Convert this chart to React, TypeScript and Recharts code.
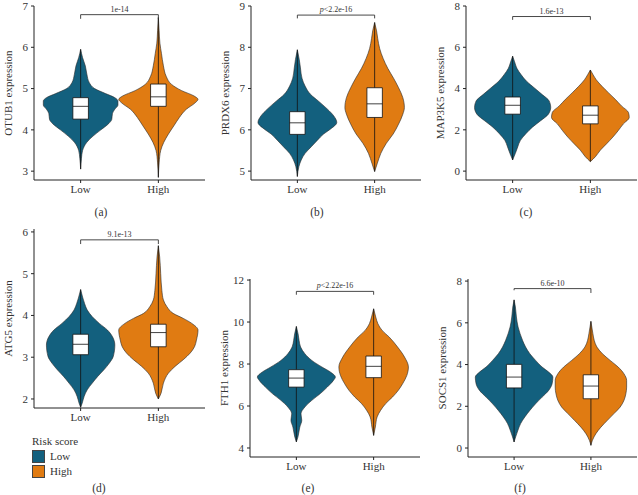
import React from "react";
import {
  Area,
  ComposedChart,
  Label,
  ReferenceArea,
  ReferenceLine,
  XAxis,
  YAxis
} from "recharts";

const groups = ["Low", "High"];
const genes = ["OTUB1", "PRDX6", "MAP3K5", "ATG5", "FTH1", "SOCS1"];
const pLabels = ["1e-14", "p<2.2e-16", "1.6e-13", "9.1e-13", "p<2.22e-16", "6.6e-10"];
const panelTags = ["(a)", "(b)", "(c)", "(d)", "(e)", "(f)"];

const yTicks = [
  [3, 4, 5, 6, 7],
  [5, 6, 7, 8, 9],
  [0, 2, 4, 6, 8],
  [2, 3, 4, 5, 6],
  [4, 6, 8, 10, 12],
  [0, 2, 4, 6, 8]
];

// violin outlines: [expression, half width in group units]
const otub1Low = [
  [3.05, 0], [3.3, 0.01], [3.5, 0.025], [3.7, 0.08], [3.85, 0.16], [4.0, 0.26], [4.15, 0.36],
  [4.25, 0.4], [4.4, 0.41], [4.5, 0.44], [4.6, 0.48], [4.7, 0.48], [4.78, 0.44], [4.88, 0.32],
  [5.0, 0.18], [5.15, 0.11], [5.35, 0.08], [5.55, 0.06], [5.75, 0.025], [5.95, 0]
];
const otub1High = [
  [2.85, 0], [3.2, 0.01], [3.5, 0.03], [3.7, 0.07], [3.9, 0.13], [4.1, 0.2], [4.3, 0.27],
  [4.5, 0.36], [4.65, 0.47], [4.74, 0.51], [4.82, 0.46], [4.95, 0.3], [5.1, 0.17], [5.3, 0.1],
  [5.55, 0.065], [5.85, 0.04], [6.1, 0.02], [6.4, 0.01], [6.72, 0]
];
const prdx6Low = [
  [4.87, 0], [5.11, 0.02], [5.27, 0.05], [5.43, 0.1], [5.59, 0.18], [5.75, 0.26], [5.9, 0.34],
  [6.02, 0.43], [6.18, 0.51], [6.34, 0.47], [6.5, 0.39], [6.7, 0.27], [6.86, 0.17], [7.06, 0.1],
  [7.25, 0.06], [7.5, 0.04], [7.7, 0.025], [7.94, 0]
];
const prdx6High = [
  [4.99, 0], [5.19, 0.035], [5.43, 0.08], [5.67, 0.15], [5.9, 0.24], [6.14, 0.31], [6.38, 0.365],
  [6.54, 0.385], [6.78, 0.365], [7.02, 0.31], [7.25, 0.245], [7.49, 0.17], [7.73, 0.11],
  [7.97, 0.065], [8.21, 0.04], [8.4, 0.025], [8.6, 0]
];
const map3k5Low = [
  [0.54, 0], [0.86, 0.035], [1.17, 0.065], [1.49, 0.1], [1.81, 0.17], [2.13, 0.255], [2.44, 0.36],
  [2.76, 0.46], [3.08, 0.49], [3.4, 0.47], [3.71, 0.38], [4.03, 0.28], [4.35, 0.18], [4.67, 0.11],
  [4.98, 0.055], [5.3, 0.025], [5.57, 0]
];
const map3k5High = [
  [0.46, 0], [0.7, 0.065], [1.02, 0.13], [1.33, 0.21], [1.65, 0.29], [1.97, 0.36], [2.29, 0.425],
  [2.6, 0.5], [2.84, 0.49], [3.16, 0.4], [3.48, 0.32], [3.79, 0.235], [4.11, 0.15], [4.43, 0.075],
  [4.67, 0.035], [4.9, 0]
];
const atg5Low = [
  [1.8, 0], [1.9, 0.02], [2.06, 0.045], [2.22, 0.085], [2.38, 0.15], [2.54, 0.22], [2.7, 0.3],
  [2.86, 0.37], [3.02, 0.42], [3.29, 0.44], [3.49, 0.41], [3.65, 0.345], [3.81, 0.24], [3.97, 0.15],
  [4.13, 0.085], [4.29, 0.05], [4.44, 0.025], [4.62, 0]
];
const atg5High = [
  [2.0, 0], [2.14, 0.035], [2.38, 0.065], [2.62, 0.13], [2.78, 0.215], [2.94, 0.32], [3.1, 0.41],
  [3.25, 0.465], [3.41, 0.49], [3.65, 0.51], [3.81, 0.43], [3.93, 0.32], [4.05, 0.19], [4.21, 0.11],
  [4.37, 0.065], [4.6, 0.045], [5.0, 0.03], [5.4, 0.017], [5.67, 0]
];
const fth1Low = [
  [4.29, 0], [4.52, 0.02], [5.0, 0.045], [5.32, 0.07], [5.63, 0.06], [5.95, 0.11], [6.27, 0.2],
  [6.59, 0.31], [6.9, 0.4], [7.22, 0.48], [7.38, 0.505], [7.62, 0.44], [7.86, 0.33], [8.17, 0.2],
  [8.49, 0.11], [8.81, 0.055], [9.13, 0.035], [9.44, 0.022], [9.79, 0]
];
const fth1High = [
  [4.6, 0], [5.0, 0.022], [5.48, 0.045], [5.79, 0.09], [6.11, 0.155], [6.43, 0.245], [6.75, 0.32],
  [7.06, 0.375], [7.46, 0.43], [7.86, 0.45], [8.33, 0.4], [8.81, 0.31], [9.29, 0.2], [9.6, 0.11],
  [9.92, 0.055], [10.24, 0.027], [10.63, 0]
];
const socs1Low = [
  [0.29, 0], [0.53, 0.02], [0.85, 0.05], [1.17, 0.085], [1.49, 0.14], [1.8, 0.205], [2.12, 0.28],
  [2.44, 0.365], [2.76, 0.45], [3.08, 0.495], [3.4, 0.505], [3.64, 0.45], [3.88, 0.365], [4.2, 0.28],
  [4.52, 0.205], [4.84, 0.15], [5.16, 0.11], [5.48, 0.078], [5.8, 0.052], [6.28, 0.03],
  [6.76, 0.017], [7.1, 0]
];
const socs1High = [
  [0.13, 0], [0.37, 0.02], [0.69, 0.065], [1.0, 0.13], [1.33, 0.215], [1.65, 0.3], [1.96, 0.38],
  [2.28, 0.43], [2.6, 0.455], [2.92, 0.465], [3.24, 0.465], [3.56, 0.43], [3.88, 0.355], [4.2, 0.25],
  [4.52, 0.15], [4.84, 0.078], [5.16, 0.043], [5.48, 0.026], [6.07, 0]
];

// box stats: [min, q1, median, q3, max]
const otub1Box = [[3.05, 4.26, 4.57, 4.78, 5.95], [2.85, 4.57, 4.8, 5.11, 6.72]];
const prdx6Box = [[4.87, 5.89, 6.17, 6.44, 7.94], [4.99, 6.3, 6.63, 7.02, 8.6]];
const map3k5Box = [[0.54, 2.76, 3.19, 3.59, 5.57], [0.46, 2.29, 2.71, 3.16, 4.9]];
const atg5Box = [[1.8, 3.06, 3.31, 3.55, 4.62], [2.0, 3.25, 3.59, 3.79, 5.67]];
const fth1Box = [[4.29, 6.9, 7.33, 7.73, 9.79], [4.6, 7.35, 7.89, 8.38, 10.63]];
const socs1Box = [[0.29, 2.88, 3.4, 4.01, 7.1], [0.13, 2.36, 2.97, 3.51, 6.07]];

// significance bracket: [height, left tip end, right tip end]
const brackets = [
  [6.79, 6.69, 6.69],
  [8.78, 8.7, 8.7],
  [7.49, 7.33, 7.33],
  [5.81, 5.71, 5.71],
  [11.46, 11.3, 11.3],
  [7.64, 7.56, 7.43]
];

const violins = [
  [otub1Low, otub1High],
  [prdx6Low, prdx6High],
  [map3k5Low, map3k5High],
  [atg5Low, atg5High],
  [fth1Low, fth1High],
  [socs1Low, socs1High]
];
const boxes = [otub1Box, prdx6Box, map3k5Box, atg5Box, fth1Box, socs1Box];

// page placement of each plot area
const frames = [
  { left: 34, top: 6, width: 171, height: 174, domain: [2.786, 7.0], tagX: 101, tagY: 212 },
  { left: 251, top: 6, width: 170, height: 174, domain: [4.785, 9.0], tagX: 317, tagY: 212 },
  { left: 466, top: 6, width: 171, height: 174, domain: [-0.43, 8.0], tagX: 526, tagY: 212 },
  { left: 34, top: 229, width: 171, height: 179, domain: [1.784, 6.07], tagX: 99, tagY: 488 },
  { left: 250, top: 279, width: 170, height: 178, domain: [3.571, 12.05], tagX: 308, tagY: 488 },
  { left: 468, top: 279, width: 169, height: 178, domain: [-0.43, 8.1], tagX: 520, tagY: 488 }
];

const COLORS = ["#13607e", "#e07b12"];
const OUTLINE = "#262626";
const AXIS = "#222";
const FONT = "'Liberation Serif', 'Times New Roman', 'DejaVu Serif', serif";
const Y_AXIS_W = 60;
const X_AXIS_H = 30;
const TOP_PAD = 8;
const BOX_HALF = 0.1;

function PLabel({ text, viewBox }: { text: string; viewBox?: any }) {
  if (!viewBox) return null;
  const x = viewBox.x + viewBox.width / 2;
  const y = viewBox.y - 3;
  const italic = text.startsWith("p");
  return (
    <text x={x} y={y} textAnchor="middle" fontSize={8} fill="#333" fontFamily={FONT}>
      {italic ? <tspan fontStyle="italic">p</tspan> : null}
      {italic ? text.slice(1) : text}
    </text>
  );
}

function YTitle({ text, viewBox }: { text: string; viewBox?: any }) {
  if (!viewBox) return null;
  const x = viewBox.x + viewBox.width - 26;
  const y = viewBox.y + viewBox.height / 2;
  return (
    <text
      x={x}
      y={y}
      transform={`rotate(-90, ${x}, ${y})`}
      textAnchor="middle"
      dominantBaseline="central"
      fontSize={11}
      fill="#333"
      fontFamily={FONT}
    >
      {text}
    </text>
  );
}

function ViolinPanel({ index }: { index: number }) {
  const frame = frames[index];
  const [bracketY, tipLeft, tipRight] = brackets[index];
  const pLabel = pLabels[index];

  return (
    <div
      style={{
        position: "absolute",
        left: frame.left - Y_AXIS_W,
        top: frame.top - TOP_PAD
      }}
    >
      <ComposedChart
        layout="vertical"
        width={frame.width + Y_AXIS_W}
        height={frame.height + TOP_PAD + X_AXIS_H}
        margin={{ top: TOP_PAD, right: 0, bottom: 0, left: 0 }}
        style={{ fontFamily: FONT }}
      >
        <XAxis
          type="number"
          domain={[0.4, 2.6]}
          allowDataOverflow
          ticks={[1, 2]}
          tickFormatter={(value) => groups[value - 1] ?? ""}
          height={X_AXIS_H}
          tickSize={3}
          tickMargin={2}
          stroke={AXIS}
          tick={{ fontSize: 11, fill: "#333", fontFamily: FONT }}
        />
        <YAxis
          type="number"
          dataKey="v"
          domain={frame.domain}
          allowDataOverflow
          reversed
          ticks={yTicks[index]}
          width={Y_AXIS_W}
          tickSize={3}
          tickMargin={3}
          stroke={AXIS}
          tick={{ fontSize: 11, fill: "#333", fontFamily: FONT }}
        >
          <Label content={<YTitle text={`${genes[index]} expression`} />} />
        </YAxis>

        {violins[index].map((shape, g) => {
          const center = g + 1;
          const rows = shape.map(([v, w]) => ({ v, r: [center - w, center + w] }));
          return (
            <Area
              key={`violin-${g}`}
              data={rows}
              dataKey="r"
              type="monotone"
              fill={COLORS[g]}
              fillOpacity={1}
              stroke={OUTLINE}
              strokeWidth={0.6}
              dot={false}
              activeDot={false}
              isAnimationActive={false}
              zIndex={100}
            />
          );
        })}

        {boxes[index].map(([min, , , , max], g) => (
          <ReferenceLine
            key={`whisker-${g}`}
            segment={[
              { x: g + 1, y: min },
              { x: g + 1, y: max }
            ]}
            stroke="#111"
            strokeWidth={0.8}
            zIndex={300}
          />
        ))}
        {boxes[index].map(([, q1, , q3], g) => (
          <ReferenceArea
            key={`box-${g}`}
            x1={g + 1 - BOX_HALF}
            x2={g + 1 + BOX_HALF}
            y1={q1}
            y2={q3}
            fill="#ffffff"
            fillOpacity={1}
            stroke="#111"
            strokeWidth={0.8}
            zIndex={400}
          />
        ))}
        {boxes[index].map(([, , median], g) => (
          <ReferenceLine
            key={`median-${g}`}
            segment={[
              { x: g + 1 - BOX_HALF, y: median },
              { x: g + 1 + BOX_HALF, y: median }
            ]}
            stroke="#111"
            strokeWidth={0.8}
            zIndex={500}
          />
        ))}

        <ReferenceLine
          segment={[
            { x: 1, y: bracketY },
            { x: 2, y: bracketY }
          ]}
          stroke="#333"
          strokeWidth={0.9}
          zIndex={500}
        >
          <Label content={<PLabel text={pLabel} />} />
        </ReferenceLine>
        <ReferenceLine
          segment={[
            { x: 1, y: bracketY },
            { x: 1, y: tipLeft }
          ]}
          stroke="#333"
          strokeWidth={0.9}
          zIndex={500}
        />
        <ReferenceLine
          segment={[
            { x: 2, y: bracketY },
            { x: 2, y: tipRight }
          ]}
          stroke="#333"
          strokeWidth={0.9}
          zIndex={500}
        />
      </ComposedChart>
    </div>
  );
}

export default function App() {
  return (
    <div
      style={{
        position: "absolute",
        left: 0,
        top: 0,
        width: 638,
        height: 495,
        background: "#ffffff",
        fontFamily: FONT,
        color: "#333"
      }}
    >
      {frames.map((frame, i) => (
        <React.Fragment key={genes[i]}>
          <ViolinPanel index={i} />
          <div
            style={{
              position: "absolute",
              left: frame.tagX - 20,
              top: frame.tagY - 7,
              width: 40,
              textAlign: "center",
              fontSize: 11.5,
              lineHeight: "14px"
            }}
          >
            {panelTags[i]}
          </div>
        </React.Fragment>
      ))}

      <div style={{ position: "absolute", left: 32, top: 434, fontSize: 11, lineHeight: "14px" }}>
        <div>Risk score</div>
        {groups.map((name, g) => (
          <div key={name} style={{ display: "flex", alignItems: "center", height: 14, marginTop: 1 }}>
            <span
              style={{
                display: "inline-block",
                width: 11,
                height: 11,
                background: COLORS[g],
                border: "0.5px solid #444",
                marginRight: 5
              }}
            />
            {name}
          </div>
        ))}
      </div>
    </div>
  );
}
